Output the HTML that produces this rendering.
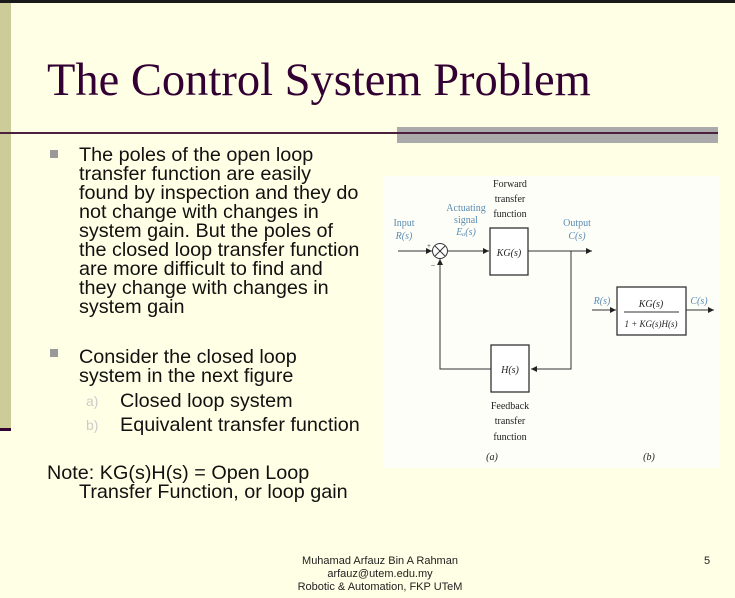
<!DOCTYPE html>
<html><head><meta charset="utf-8"><style>
body{margin:0;width:735px;height:598px;overflow:hidden;background:#ffffe5;position:relative;font-family:"Liberation Sans",Arial,sans-serif;}
.a{position:absolute;}
.t{font-size:19.8px;line-height:19px;color:#111;white-space:nowrap;}
.b{width:8px;height:8px;background:#999;}
.f{font-size:11px;color:#222;line-height:13px;text-align:center;}
</style></head><body>
<div class="a" style="left:0;top:0;width:735px;height:3px;background:#1a1a1a"></div>
<div class="a" style="left:0;top:3px;width:11px;height:426px;background:#cccc99"></div>
<div class="a" style="left:0;top:428px;width:11px;height:3px;background:#330033"></div>
<div class="a" style="left:397px;top:127px;width:321px;height:16px;background:#aaaaaa"></div>
<div class="a" style="left:0;top:132px;width:718px;height:2px;background:#4d2040"></div>
<div class="a" style="left:47px;top:55px;font-family:'Liberation Serif',serif;font-size:46.5px;color:#330033;white-space:nowrap;line-height:52px">The Control System Problem</div>

<div class="a b" style="left:50px;top:150px"></div>
<div class="a t" style="left:79px;top:146px">The poles of the open loop<br>transfer function are easily<br>found by inspection and they do<br>not change with changes in<br>system gain. But the poles of<br>the closed loop transfer function<br>are more difficult to find and<br>they change with changes in<br>system gain</div>
<div class="a b" style="left:50px;top:349px"></div>
<div class="a t" style="left:79px;top:348px">Consider the closed loop<br>system in the next figure</div>
<div class="a t" style="left:86px;top:392px;font-size:14px;color:#ccc">a)</div>
<div class="a t" style="left:120px;top:392px">Closed loop system</div>
<div class="a t" style="left:86px;top:416px;font-size:14px;color:#ccc">b)</div>
<div class="a t" style="left:120px;top:416px">Equivalent transfer function</div>
<div class="a t" style="left:47px;top:464px">Note: KG(s)H(s) = Open Loop</div>
<div class="a t" style="left:79px;top:483px">Transfer Function, or loop gain</div>

<svg class="a" style="left:383px;top:176px" width="336" height="292" viewBox="383 176 336 292">
<rect x="383" y="176" width="336" height="292" fill="#fefef8"/>
<defs><marker id="ar" markerWidth="6" markerHeight="6" refX="6" refY="3" orient="auto"><path d="M0,0 L6,3 L0,6z" fill="#222"/></marker></defs>
<g stroke="#333" stroke-width="1" fill="none">
<line x1="398" y1="251" x2="432" y2="251" marker-end="url(#ar)"/>
<circle cx="440" cy="251" r="7.5" fill="#fff"/>
<line x1="435" y1="246" x2="445" y2="256"/><line x1="445" y1="246" x2="435" y2="256"/>
<line x1="448" y1="251" x2="489" y2="251" marker-end="url(#ar)"/>
<rect x="490" y="228" width="38" height="47" fill="#fff" stroke-width="1.3"/>
<line x1="528" y1="251" x2="592" y2="251" marker-end="url(#ar)"/>
<polyline points="571,251 571,369 531,369" marker-end="url(#ar)"/>
<rect x="491" y="345" width="38" height="47" fill="#fff" stroke-width="1.3"/>
<polyline points="491,369 440,369 440,259" marker-end="url(#ar)"/>
<line x1="592" y1="310" x2="616" y2="310" marker-end="url(#ar)"/>
<rect x="617" y="287" width="69" height="48" fill="#fff" stroke-width="1.3"/>
<line x1="624" y1="312" x2="679" y2="312"/>
<line x1="686" y1="310" x2="714" y2="310" marker-end="url(#ar)"/>
</g>
<g font-family="Liberation Serif,serif" font-size="10" fill="#222" text-anchor="middle">
<text x="510" y="187">Forward</text><text x="510" y="202">transfer</text><text x="510" y="217">function</text>
<text x="509" y="256" font-style="italic">KG(s)</text>
<text x="510" y="373" font-style="italic">H(s)</text>
<text x="510" y="409">Feedback</text><text x="510" y="424">transfer</text><text x="510" y="440">function</text>
<text x="492" y="460" font-style="italic">(a)</text><text x="649" y="460" font-style="italic">(b)</text>
<text x="651" y="307" font-style="italic">KG(s)</text>
<text x="651" y="327" font-size="9" font-style="italic">1 + KG(s)H(s)</text>
<text x="429" y="248" font-size="7">+</text><text x="433" y="268" font-size="8">−</text>
</g>
<g font-family="Liberation Serif,serif" font-size="10" fill="#5b8cb4" text-anchor="middle">
<text x="404" y="226">Input</text><text x="404" y="239" font-style="italic">R(s)</text>
<text x="466" y="211">Actuating</text><text x="466" y="223">signal</text><text x="466" y="235" font-style="italic">Eₐ(s)</text>
<text x="577" y="226">Output</text><text x="577" y="239" font-style="italic">C(s)</text>
<text x="602" y="304" font-style="italic">R(s)</text><text x="699" y="304" font-style="italic">C(s)</text>
</g>
</svg>

<div class="a f" style="left:280px;top:555px;width:200px">Muhamad Arfauz Bin A Rahman<br>arfauz@utem.edu.my<br>Robotic &amp; Automation, FKP UTeM</div>
<div class="a f" style="left:704px;top:555px">5</div>
</body></html>
